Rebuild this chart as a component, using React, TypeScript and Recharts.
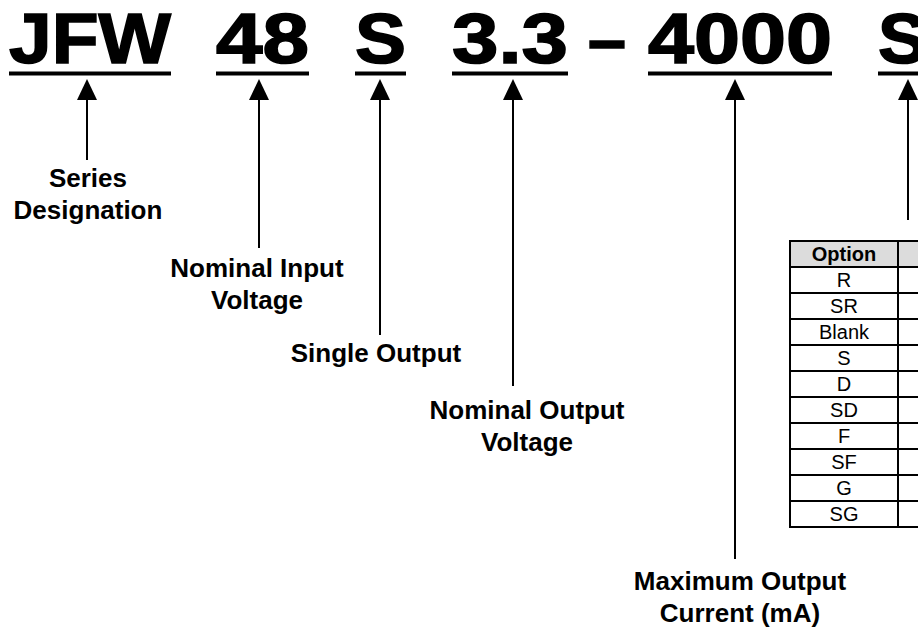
import React from "react";
import {
  ComposedChart,
  Scatter,
  XAxis,
  YAxis,
  ReferenceLine,
  ReferenceArea,
} from "recharts";

// part number and what each piece means
const codeParts = ["JFW", "48", "S", "3.3", "4000", "S"];
const calloutLabels = [
  ["Series", "Designation"],
  ["Nominal Input", "Voltage"],
  ["Single Output"],
  ["Nominal Output", "Voltage"],
  ["Maximum Output", "Current (mA)"],
  [],
];
const optionHeader = "Option";
const optionCodes = ["R", "SR", "Blank", "S", "D", "SD", "F", "SF", "G", "SG"];

// layout (chart units == pixels, y grows downward)
const W = 918;
const H = 627;
const partLeft = [9, 216, 355, 452, 648, 878];
const partRight = [171, 309, 406, 568, 832, 930];
const arrowX = [87, 259, 380, 513, 735, 908];
const leaderEnd = [160, 248, 335, 386, 559, 220];
const labelX = [88, 257, 376, 527, 740, 908];
const labelBaseline = [187, 277, 362, 419, 590, 0];
const codeBaseline = 63;
const underlineY = 73.5;
const arrowTip = 79;
const arrowBase = 100;
const tableLeft = 790;
const tableMid = 898;
const tableRight = 940;
const tableTop = 241;
const rowH = 26;

const FONT = '"Liberation Sans", Arial, Helvetica, sans-serif';

const codeData = codeParts.map((text, i) => ({
  x: partLeft[i],
  y: codeBaseline,
  text,
  w: partRight[i] - partLeft[i] - (i === codeParts.length - 1 ? 3 : 0),
}));
const dashData = [{ x: 588, y: codeBaseline, text: "\u2013", w: 38 }];

const arrowData = arrowX.map((x) => ({ x, y: arrowTip }));

const labelData = calloutLabels
  .map((lines, i) => ({ x: labelX[i], y: labelBaseline[i], lines }))
  .filter((d) => d.lines.length > 0);

const tableText = [optionHeader, ...optionCodes].map((text, i) => ({
  x: (tableLeft + tableMid) / 2,
  y: tableTop + rowH * i + 20,
  text,
  bold: i === 0,
}));

const CodeShape = (props: any) => {
  const { cx, cy, payload } = props;
  return (
    <text
      x={cx}
      y={cy}
      fontFamily={FONT}
      fontWeight="bold"
      fontSize={71}
      fill="#000"
      stroke="#000"
      strokeWidth={1.6}
      textLength={payload.w}
      lengthAdjust="spacingAndGlyphs"
    >
      {payload.text}
    </text>
  );
};

const ArrowShape = (props: any) => {
  const { cx, cy } = props;
  const h = arrowBase - arrowTip;
  return (
    <polygon
      points={`${cx},${cy} ${cx - 10},${cy + h} ${cx + 10},${cy + h}`}
      fill="#000"
    />
  );
};

const LabelShape = (props: any) => {
  const { cx, cy, payload } = props;
  return (
    <text
      x={cx}
      y={cy}
      textAnchor="middle"
      fontFamily={FONT}
      fontWeight="bold"
      fontSize={26}
      fill="#000"
    >
      {payload.lines.map((l: string, i: number) => (
        <tspan key={i} x={cx} dy={i === 0 ? 0 : 32}>
          {l}
        </tspan>
      ))}
    </text>
  );
};

const CellText = (props: any) => {
  const { cx, cy, payload } = props;
  return (
    <text
      x={cx}
      y={cy}
      textAnchor="middle"
      fontFamily={FONT}
      fontWeight={payload.bold ? "bold" : "normal"}
      fontSize={20}
      fill="#000"
    >
      {payload.text}
    </text>
  );
};

export default function App() {
  return (
    <div style={{ position: "absolute", left: 0, top: 0, background: "#fff" }}>
      <ComposedChart width={W} height={H} margin={{ top: 0, right: 0, bottom: 0, left: 0 }}>
        <XAxis type="number" dataKey="x" domain={[0, W]} allowDataOverflow hide height={0} />
        <YAxis type="number" dataKey="y" domain={[0, H]} allowDataOverflow reversed hide width={0} />

        {/* option table */}
        {[optionHeader, ...optionCodes].map((_, i) => (
          <ReferenceArea
            key={`c1-${i}`}
            x1={tableLeft}
            x2={tableMid}
            y1={tableTop + rowH * i}
            y2={tableTop + rowH * (i + 1)}
            fill={i === 0 ? "#dcdcdc" : "#fff"}
            fillOpacity={1}
            stroke="#000"
            strokeWidth={2}
            ifOverflow="hidden"
          />
        ))}
        {[optionHeader, ...optionCodes].map((_, i) => (
          <ReferenceArea
            key={`c2-${i}`}
            x1={tableMid}
            x2={tableRight}
            y1={tableTop + rowH * i}
            y2={tableTop + rowH * (i + 1)}
            fill={i === 0 ? "#dcdcdc" : "#fff"}
            fillOpacity={1}
            stroke="#000"
            strokeWidth={2}
            ifOverflow="hidden"
          />
        ))}

        {/* underlines */}
        {partLeft.map((x, i) => (
          <ReferenceLine
            key={`u-${i}`}
            segment={[
              { x, y: underlineY },
              { x: partRight[i], y: underlineY },
            ]}
            stroke="#000"
            strokeWidth={4}
            ifOverflow="hidden"
          />
        ))}

        {/* leader lines */}
        {arrowX.map((x, i) => (
          <ReferenceLine
            key={`l-${i}`}
            segment={[
              { x, y: arrowBase - 2 },
              { x, y: leaderEnd[i] },
            ]}
            stroke="#000"
            strokeWidth={2}
          />
        ))}

        <Scatter data={codeData} shape={CodeShape} isAnimationActive={false} />
        <Scatter data={dashData} shape={CodeShape} isAnimationActive={false} />
        <Scatter data={arrowData} shape={ArrowShape} isAnimationActive={false} />
        <Scatter data={labelData} shape={LabelShape} isAnimationActive={false} />
        <Scatter data={tableText} shape={CellText} isAnimationActive={false} />
      </ComposedChart>
    </div>
  );
}
